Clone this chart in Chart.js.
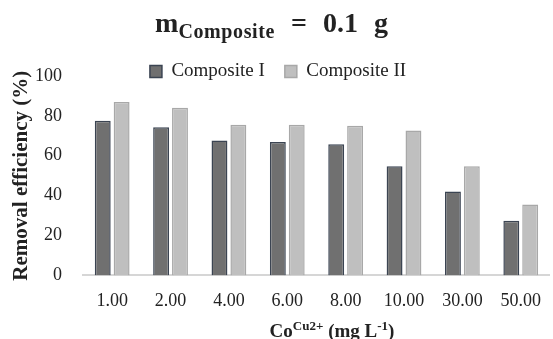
<!DOCTYPE html>
<html>
<head>
<meta charset="utf-8">
<script src="https://cdn.jsdelivr.net/npm/chart.js@4"></script>
<style>
  body { margin: 0; background: #fff; }
  #wrap { position: relative; width: 553px; height: 339px; overflow: hidden; }
  #chart { position: absolute; left: 0; top: 0; }
  .txt { position: absolute; font-family: "Liberation Serif", serif; font-weight: bold; color: #222; white-space: nowrap; text-align: center; }
  #title { left: 0; width: 543px; top: 8px; font-size: 28px; line-height: 30px; word-spacing: 9px; }
  #title span { font-size: 20px; position: relative; top: 6px; word-spacing: 0; letter-spacing: 0.6px; }
  #xtitle { left: 0; width: 664px; top: 320px; font-size: 19px; line-height: 22px; }
  #xtitle span { font-size: 13px; position: relative; top: -7px; }
</style>
</head>
<body>
<div id="wrap">
  <canvas id="chart" width="556" height="339"></canvas>
  <div id="title" class="txt">m<span>Composite</span> = 0.1 g</div>
  <div id="xtitle" class="txt">Co<span>Cu2+</span> (mg L<span>-1</span>)</div>
</div>
<script>
// concentrations (mg L-1)
const concLabels = ['1.00', '2.00', '4.00', '6.00', '8.00', '10.00', '30.00', '50.00'];
// removal efficiency (%)
const compositeI = [77.5, 74.3, 67.7, 66.9, 65.8, 54.8, 42.1, 27.4];
const compositeII = [87.0, 84.1, 75.6, 75.6, 75.1, 72.7, 54.8, 35.5];

const serif = 'Liberation Serif';

// legend sits partly over the top of the plot like the original:
// fixed box height and no clipping when drawn
const legendOverlap = {
  id: 'legendOverlap',
  beforeInit(chart) {
    const legend = chart.legend;
    const fit = legend.fit;
    legend.fit = function () {
      fit.bind(legend)();
      this.height = 34;
    };
    legend.draw = function () {
      if (this.options.display) this._draw();
    };
  }
};

new Chart(document.getElementById('chart'), {
  type: 'bar',
  data: {
    labels: concLabels,
    datasets: [
      {
        label: 'Composite I',
        data: compositeI,
        backgroundColor: '#707070',
        borderColor: '#3b4452',
        borderWidth: 1.5
      },
      {
        label: 'Composite II',
        data: compositeII,
        backgroundColor: '#bfbfbf',
        borderColor: '#a8a8a8',
        borderWidth: 1.5
      }
    ]
  },
  options: {
    responsive: false,
    animation: false,
    layout: { padding: { top: 42, left: 0, right: 0, bottom: 12 } },
    datasets: {
      bar: { categoryPercentage: 0.647, barPercentage: 0.842 }
    },
    plugins: {
      legend: {
        position: 'top',
        labels: {
          boxWidth: 12,
          boxHeight: 12,
          padding: 20,
          color: '#222',
          font: { family: serif, size: 19 }
        }
      },
      tooltip: { enabled: false }
    },
    scales: {
      x: {
        grid: { display: false, drawTicks: false },
        border: { display: true, color: '#d6d6d6', width: 2 },
        ticks: { color: '#222', padding: 15, font: { family: serif, size: 18 } }
      },
      y: {
        min: 0,
        max: 100,
        afterFit: (scale) => { scale.width = 83; },
        grid: { display: false, drawTicks: false },
        border: { display: false },
        ticks: { stepSize: 20, color: '#222', padding: 21, font: { family: serif, size: 18 } },
        title: {
          display: true,
          text: 'Removal efficiency (%)',
          color: '#222',
          padding: { top: 9, bottom: 0 },
          font: { family: serif, size: 21, weight: 'bold' }
        }
      }
    }
  },
  plugins: [legendOverlap]
});
</script>
</body>
</html>
